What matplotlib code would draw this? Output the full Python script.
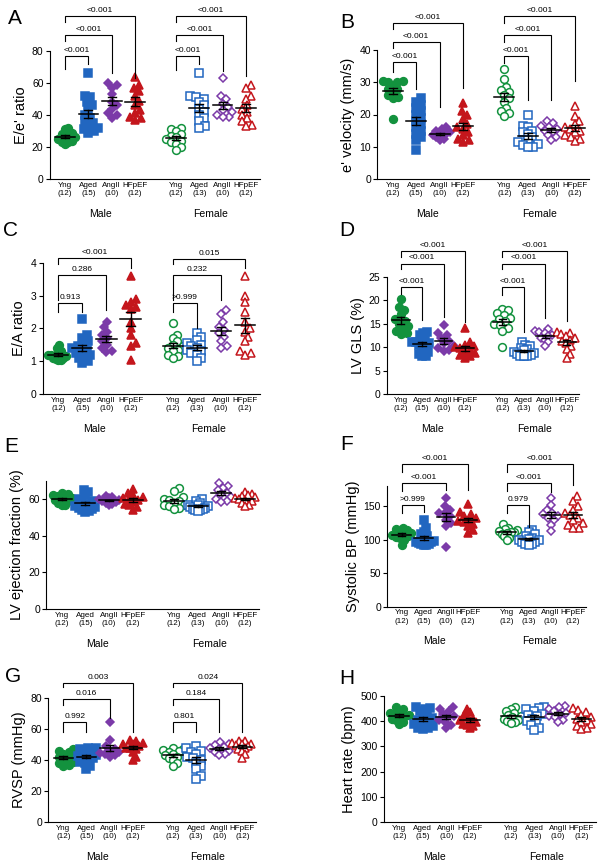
import numpy as np
import matplotlib
matplotlib.use("Agg")
import matplotlib.pyplot as plt

plt.rcParams['font.family'] = ['Liberation Sans', 'DejaVu Sans']

groups = ["Yng", "Aged", "AngII", "HFpEF"]
n_male = [12, 15, 10, 12]
n_female = [12, 13, 10, 12]
positions = [0, 1, 2, 3, 4.75, 5.75, 6.75, 7.75]
colors = ["#13923e", "#2166c0", "#7b3aa8", "#c4161c"]
markers = ["o", "s", "D", "^"]
msizes = [5.6, 5.2, 4.4, 6.0]

# values per group: male Yng, Aged, AngII, HFpEF, female Yng, Aged, AngII, HFpEF
ee_ratio = [
    [32, 31, 29, 28, 27, 26, 26, 25, 24, 23, 22, 23],
    [66, 52, 51, 48, 46, 43, 40, 38, 36, 35, 33, 32, 31, 30, 29],
    [60, 59, 57, 53, 48, 46, 44, 41, 40, 38],
    [64, 59, 57, 55, 52, 49, 46, 43, 41, 39, 38, 37],
    [32, 31, 30, 28, 27, 26, 25, 24, 23, 22, 20, 18],
    [66, 52, 51, 50, 48, 46, 44, 42, 40, 38, 36, 33, 32],
    [63, 52, 50, 47, 45, 43, 42, 40, 39, 39],
    [59, 57, 52, 50, 46, 44, 42, 40, 38, 36, 34, 33],
]
e_velocity = [
    [30.5, 30.5, 30, 30, 29, 28, 28, 27, 26, 25.5, 25, 18.5],
    [25, 24, 23, 22, 21, 20, 19, 18, 17, 16, 15, 14, 13, 12, 9],
    [16, 15.5, 15, 14.5, 14, 14, 13.5, 13, 12.5, 12],
    [23.5, 21, 20, 18.5, 17, 16, 15.5, 14.5, 13.5, 12.5, 12, 11.5],
    [34, 31, 28.5, 27.5, 27, 26, 25, 24, 22, 21, 20.5, 19.5],
    [20, 16.5, 16, 15, 14.5, 14, 13, 12, 11.5, 11, 10.5, 10, 9.8],
    [18, 17.5, 16.5, 16, 15.5, 15, 14.5, 13.5, 13, 12],
    [22.5, 19.5, 18, 17, 16, 15.5, 15, 14.5, 13.5, 13, 12.5, 11.8],
]
ea_ratio = [
    [1.5, 1.4, 1.3, 1.25, 1.2, 1.2, 1.15, 1.1, 1.1, 1.08, 1.05, 1.05],
    [2.3, 1.8, 1.7, 1.6, 1.5, 1.45, 1.4, 1.35, 1.3, 1.25, 1.2, 1.15, 1.1, 1.0, 0.95],
    [2.2, 2.05, 1.9, 1.8, 1.7, 1.6, 1.5, 1.4, 1.3, 1.27],
    [3.6, 2.9, 2.8, 2.7, 2.65, 2.6, 2.2, 2.0, 1.8, 1.55, 1.45, 1.05],
    [2.15, 1.8, 1.7, 1.6, 1.5, 1.45, 1.4, 1.35, 1.3, 1.2, 1.15, 1.1],
    [1.85, 1.75, 1.65, 1.55, 1.5, 1.45, 1.4, 1.35, 1.3, 1.25, 1.2, 1.1, 1.0],
    [2.55, 2.45, 2.2, 2.05, 1.95, 1.85, 1.75, 1.6, 1.45, 1.4],
    [3.6, 3.0, 2.8, 2.5, 2.2, 2.0, 1.9, 1.75, 1.6, 1.3, 1.25, 1.2],
]
lv_gls = [
    [20.2, 18.5, 18, 17, 16, 15.5, 15, 14.5, 14, 13.5, 13, 12.8],
    [13.3, 13, 12.5, 12, 11.5, 11, 11, 10.5, 10.8, 10, 10.2, 9, 8.5, 8.2, 8],
    [14.8, 13, 12.5, 12, 11.3, 10.8, 10.3, 9.8, 9.4, 9.2],
    [14, 11, 10.5, 10.2, 10, 9.7, 9.4, 9, 8.7, 8.3, 8, 7.6],
    [18.2, 17.8, 17.2, 16.8, 16.3, 16, 15.5, 15, 14.7, 14, 13.5, 10],
    [11, 10.5, 10.2, 9.8, 9.5, 9.3, 9, 8.8, 8.6, 8.4, 8.2, 8.1, 8],
    [13.8, 13.5, 13.2, 12.9, 12.6, 12.3, 12, 11.6, 11, 10.2],
    [13.2, 13, 12.7, 12.3, 12, 11.6, 11.2, 10.8, 10.2, 9.5, 8.5, 7.6],
]
lv_ef = [
    [63.5, 63, 62, 61.5, 61, 60.5, 60, 59.5, 59, 58, 57, 56.5],
    [65, 64, 62, 60, 59, 58, 57.5, 57, 56, 55.5, 55, 54.5, 54, 53.5, 53],
    [61.5, 61, 60.5, 60, 59.5, 59, 58.5, 58, 57.5, 57],
    [65.5, 63.5, 62, 61, 60.5, 60, 59.5, 58.5, 57.5, 56.5, 55.5, 54],
    [66, 64.5, 61, 60, 59.5, 59, 58, 57, 56.5, 56, 55, 54.5],
    [60, 59, 58, 57, 56.5, 56, 55.5, 55, 54.5, 54.5, 54, 54, 53.5],
    [68.5, 67, 66, 65, 63.5, 62.5, 61, 60, 59, 58.5],
    [64, 63, 62, 61.5, 61, 60.5, 60, 59.5, 59, 58, 57, 56],
]
sbp = [
    [118, 116, 114, 112, 110, 108, 107, 105, 104, 102, 99, 92],
    [130, 118, 112, 108, 105, 102, 100, 98, 97, 96, 95, 94, 93, 92, 92],
    [162, 150, 145, 140, 140, 136, 130, 125, 120, 89],
    [153, 142, 138, 135, 132, 130, 128, 126, 124, 120, 115, 110],
    [123, 118, 116, 114, 113, 112, 111, 110, 108, 106, 103, 100],
    [115, 112, 108, 105, 103, 101, 100, 99, 97, 96, 94, 93, 92],
    [162, 152, 145, 140, 138, 136, 133, 130, 122, 113],
    [165, 158, 150, 145, 140, 137, 133, 129, 125, 122, 118, 117],
]
rvsp = [
    [47, 46, 45, 44, 43, 42, 41, 40, 39, 38, 37, 36],
    [48, 47.5, 47, 46, 45, 44, 43, 42.5, 42, 41, 40, 39, 38, 36, 34.5],
    [64.5, 53, 49, 47, 46, 45, 44.5, 44, 43, 42],
    [53, 52, 51, 50.5, 50, 49, 48, 47.5, 47, 45, 42, 40],
    [48, 47, 46.5, 45.5, 45, 44, 43, 42, 41, 40, 38, 36],
    [49, 47.5, 46, 45, 44, 42, 41, 40, 38, 36, 34, 30, 28],
    [51.5, 50.5, 49.5, 48.5, 47.5, 47, 46, 45, 44, 43],
    [52.5, 52, 51, 50.5, 50, 49.5, 49, 48, 47, 46, 44, 41],
]
heart_rate = [
    [455, 448, 440, 432, 428, 424, 420, 415, 410, 405, 398, 390],
    [455, 452, 450, 440, 430, 420, 412, 405, 400, 395, 390, 380, 375, 372, 370],
    [455, 450, 440, 430, 422, 415, 405, 395, 385, 372],
    [450, 435, 425, 418, 410, 405, 400, 395, 390, 385, 380, 372],
    [455, 450, 440, 432, 425, 420, 415, 410, 405, 400, 395, 392],
    [455, 452, 448, 440, 430, 425, 420, 410, 400, 395, 385, 375, 365],
    [460, 455, 448, 440, 433, 428, 422, 415, 405, 395],
    [452, 445, 435, 425, 418, 410, 405, 398, 390, 382, 375, 368],
]

# brackets: (target group, bracket level, left leg end, right leg end, p label)
br_a_m = [(1, 76.7, 69, 72.1, "<0.001"), (2, 90.2, 86.5, 66.3, "<0.001"), (3, 101.9, 98.1, 63.3, "<0.001")]
br_a_f = [(1, 76.7, 68, 72.1, "<0.001"), (2, 90.2, 86.5, 67.3, "<0.001"), (3, 101.9, 98.1, 64.2, "<0.001")]
br_b_m = [(1, 36.4, 33.3, 27.8, "<0.001"), (2, 42.6, 40.7, 22.2, "<0.001"), (3, 48.5, 46.6, 28.1, "<0.001")]
br_b_f = [(1, 38.1, 35.9, 24.5, "<0.001"), (2, 44.5, 42.6, 24.5, "<0.001"), (3, 50.4, 48.5, 30.4, "<0.001")]
br_c_m = [(1, 2.76, 2.5, 2.5, "0.913"), (2, 3.62, 2.86, 2.55, "0.286"), (3, 4.13, 3.95, 3.83, "<0.001")]
br_c_f = [(1, 2.76, 2.5, 2.0, ">0.999"), (2, 3.62, 2.86, 2.85, "0.232"), (3, 4.12, 3.95, 3.83, "0.015")]
br_d_m = [(1, 22.7, 21.4, 15.8, "<0.001"), (2, 27.8, 26.6, 16.5, "<0.001"), (3, 30.5, 29.3, 15.3, "<0.001")]
br_d_f = [(1, 22.7, 21.1, 13.3, "<0.001"), (2, 27.8, 26.6, 16.3, "<0.001"), (3, 30.5, 29.3, 15.6, "<0.001")]
br_f_m = [(1, 152, 139.5, 142, ">0.999"), (2, 184.4, 173.4, 174, "<0.001"), (3, 213, 201.8, 174, "<0.001")]
br_f_f = [(1, 152, 139.5, 119.6, "0.979"), (2, 184.4, 173.4, 172, "<0.001"), (3, 213, 201.8, 182, "<0.001")]
br_g_m = [(1, 64.6, 58.2, 58.2, "0.992"), (2, 78.9, 75.3, 67.2, "0.016"), (3, 89.6, 87.1, 57.8, "0.003")]
br_g_f = [(1, 64.6, 57.8, 57.8, "0.801"), (2, 78.9, 75.3, 58.2, "0.184"), (3, 89.6, 87.1, 57.8, "0.024")]

W, H = 600, 865
XLIM = (-0.65, 8.35)
fig = plt.figure(figsize=(6, 8.65), dpi=100)


def swarm(ax, vals, d=6.0, half=10.0):
    # beeswarm offsets in pixels, squeezed so the cloud is at most 2*half px wide
    ypx = [ax.transData.transform((0, v))[1] for v in vals]
    upx = ax.transData.transform((1, 0))[0] - ax.transData.transform((0, 0))[0]
    order = np.argsort(vals)
    placed = []
    offs = np.zeros(len(vals))
    for i in order:
        y = ypx[i]
        cands = [0.0]
        for px, py in placed:
            dy = y - py
            if abs(dy) < d:
                dx = np.sqrt(d * d - dy * dy)
                cands += [px + dx, px - dx]
        cands.sort(key=abs)
        for c in cands:
            if all((c - px) ** 2 + (y - py) ** 2 >= d * d - 1e-6 for px, py in placed):
                break
        placed.append((c, y))
        offs[i] = c
    wmax = np.abs(offs).max()
    if wmax > half:
        offs = offs * half / wmax
    return offs / upx


def panel(box, ymax, yticks, data, ylabel, letter, letter_xy, br_m=None, br_f=None):
    x0, x1, y0, ytop = box
    ax = fig.add_axes([x0 / W, 1 - y0 / H, (x1 - x0) / W, (y0 - ytop) / H])
    ax.set_xlim(*XLIM)
    ax.set_ylim(0, ymax)
    for s in ["top", "right"]:
        ax.spines[s].set_visible(False)
    ax.spines["left"].set_bounds(0, ymax)
    ax.spines["left"].set_linewidth(0.8)
    ax.spines["bottom"].set_linewidth(0.8)
    ax.set_yticks(yticks)
    ax.tick_params(axis="y", length=3, width=0.8, labelsize=7.5, pad=1.5)
    labels = [f"{g}\n({n})" for g, n in zip(groups * 2, n_male + n_female)]
    ax.set_xticks(positions)
    ax.set_xticklabels(labels, fontsize=5.8, linespacing=1.25)
    ax.tick_params(axis="x", length=0, pad=2)
    ax.set_ylabel(ylabel, fontsize=10.5, labelpad=3)

    for k, vals in enumerate(data):
        c = colors[k % 4]
        xs = positions[k] + swarm(ax, vals)
        face = c if k < 4 else "white"
        ax.plot(xs, vals, linestyle="none", marker=markers[k % 4], ms=msizes[k % 4],
                mfc=face, mec=c, mew=1.1, zorder=2, clip_on=False)
        m = np.mean(vals)
        se = np.std(vals, ddof=1) / np.sqrt(len(vals))
        p = positions[k]
        ax.plot([p - 0.42, p + 0.42], [m, m], color="black", lw=1.1, zorder=3)
        ax.plot([p, p], [m - se, m + se], color="black", lw=1.0, zorder=3)
        for yy in (m - se, m + se):
            ax.plot([p - 0.17, p + 0.17], [yy, yy], color="black", lw=1.0, zorder=3)

    for base, brs in ((0, br_m), (4, br_f)):
        if not brs:
            continue
        xl = positions[base]
        for tgt, lev, lb, rb, lab in brs:
            xr = positions[base + tgt]
            ax.plot([xl, xl, xr, xr], [lb, lev, lev, rb], color="black", lw=0.8,
                    clip_on=False, solid_joinstyle="miter")
            ax.annotate(lab, ((xl + xr) / 2, lev), xytext=(0, 1.5), textcoords="offset points",
                        ha="center", va="bottom", fontsize=6, annotation_clip=False)

    for base, name in ((0, "Male"), (4, "Female")):
        xc = (positions[base] + positions[base + 3]) / 2
        ax.annotate(name, (xc, 0), xycoords=("data", "axes fraction"), xytext=(0, -25),
                    textcoords="offset points", ha="center", va="center", fontsize=7.5,
                    annotation_clip=False)

    fig.text(letter_xy[0] / W, 1 - letter_xy[1] / H, letter, fontsize=15, ha="center", va="center")
    return ax


panel((49.8, 260, 179, 51), 80, [0, 20, 40, 60, 80], ee_ratio, "E/e' ratio", "A", (15, 19), br_a_m, br_a_f)
panel((377.4, 588.9, 179, 50), 40, [0, 10, 20, 30, 40], e_velocity, "e' velocity (mm/s)", "B", (347, 22), br_b_m, br_b_f)
panel((42.6, 259.5, 394, 262.7), 4, [0, 1, 2, 3, 4], ea_ratio, "E/A ratio", "C", (11, 230), br_c_m, br_c_f)
panel((386.8, 579.4, 394, 276.7), 25, [0, 5, 10, 15, 20, 25], lv_gls, "LV GLS (%)", "D", (347, 230), br_d_m, br_d_f)
panel((46.3, 259.2, 609, 480.7), 70, [0, 20, 40, 60], lv_ef, "LV ejection fraction (%)", "E", (11, 447))
panel((387.3, 586.2, 606.7, 486.2), 180, [0, 50, 100, 150], sbp, "Systolic BP (mmHg)", "F", (347, 445), br_f_m, br_f_f)
panel((48.3, 256.2, 822.3, 697.7), 80, [0, 20, 40, 60, 80], rvsp, "RVSP (mmHg)", "G", (13, 677), br_g_m, br_g_f)
panel((384, 595.5, 822, 696), 500, [0, 100, 200, 300, 400, 500], heart_rate, "Heart rate (bpm)", "H", (347, 678))

fig.savefig("out.png", dpi=100)
